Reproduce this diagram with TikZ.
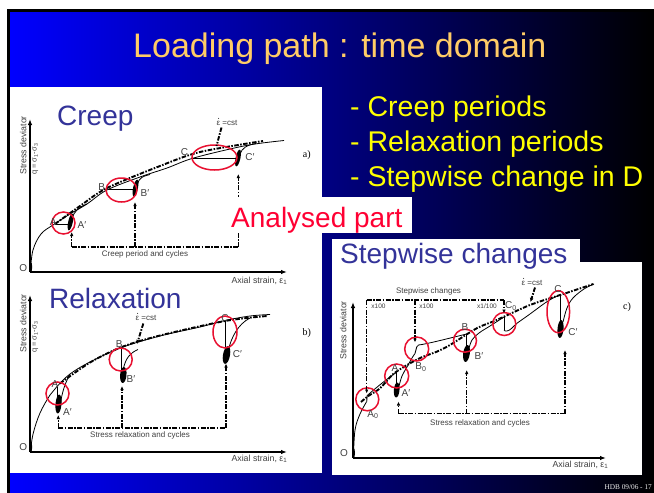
\documentclass[tikz,border=0pt]{standalone}
\usepackage{fontspec}
\setmainfont{Liberation Sans}
\newfontfamily\footserif{Liberation Serif}
\usetikzlibrary{arrows.meta,shadings}
\definecolor{titleorange}{RGB}{255,204,102}
\definecolor{bulletyellow}{RGB}{255,255,0}
\definecolor{analysered}{RGB}{255,0,51}
\definecolor{ringred}{RGB}{232,16,48}
\definecolor{panelblue}{RGB}{51,51,153}
\definecolor{labgray}{RGB}{64,64,64}
\definecolor{slideblue}{RGB}{0,0,255}
\definecolor{midblue}{RGB}{0,0,175}
\tikzset{
  axisline/.style={line width=1.6pt,-{Latex[length=6pt,width=4.5pt]}},
  curveline/.style={line width=0.8pt},
  stepline/.style={line width=0.9pt},
  epsline/.style={line width=1.9pt,dash pattern=on 4.5pt off 1.5pt on 1.5pt off 1.5pt},
  ddline/.style={line width=1.5pt,dash pattern=on 5pt off 1.5pt on 1.5pt off 1.5pt},
  ddarrow/.style={ddline,-{Latex[length=4pt,width=3.5pt]}},
  ring/.style={draw=ringred,line width=1.5pt},
  lbl/.style={text=labgray,inner sep=0,font=\fontsize{10}{11}\selectfont},
  smalllbl/.style={text=labgray,inner sep=0,font=\fontsize{8}{9}\selectfont},
  tinylbl/.style={text=labgray,inner sep=0,font=\fontsize{6.5}{7}\selectfont},
  axlbl/.style={text=labgray,inner sep=0,font=\fontsize{8.8}{9}\selectfont},
  paneltitle/.style={text=panelblue,inner sep=0,anchor=base west,font=\fontsize{28}{30}\selectfont},
  bullet/.style={text=bulletyellow,inner sep=0,anchor=base west,font=\fontsize{28.5}{30}\selectfont},
  tag/.style={inner sep=0,font=\footserif\fontsize{10}{11}\selectfont},
  epsdot/.style={fill=labgray},
}
\begin{document}
\begin{tikzpicture}[x=1pt,y=-1pt]
\useasboundingbox (0,0) rectangle (654,493);
\fill[white] (0,0) rectangle (654,493);
\begin{scope}
  \clip (0,0) rectangle (654,493);
  \shade[left color=slideblue,middle color=midblue,right color=black] (8.5,10.5) rectangle (654,493);
  \draw[line width=2.6pt] (8.5,500) -- (8.5,10.5) -- (660,10.5);
\end{scope}

% title and bullets
\node[anchor=base west,inner sep=0,text=titleorange,font=\fontsize{34}{40}\selectfont] (title) at (133,57) {Loading path : time domain};
\node[bullet] (b1) at (350,116) {- Creep periods};
\node[bullet] (b2) at (350,151) {- Relaxation periods};
\node[bullet] (b3) at (350,186) {- Stepwise change in D};

% white panels
\fill[white] (10,87) rectangle (322,473);
\fill[white] (332,262) rectangle (642,475);
\fill[white] (332,239) rectangle (580,262);

%================ PANEL A : creep =================
\coordinate (aO) at (30,272);
\coordinate (aY) at (30,119);
\coordinate (aX) at (287,272);
\draw[axisline] (aO) -- (aY);
\draw[axisline] (aO) -- (aX);
\fill (30.8,267) ellipse (1.4 and 5);
\draw[curveline] plot[smooth,tension=0.6] coordinates {(30.5,270) (33,250) (41,234) (53,225) (70,214) (87,204) (107,190) (140,177) (167,168) (192,158.5) (230,149) (255,144) (284,140.5)};
\draw[curveline] (72,219) .. controls (74,211) and (79,207) .. (87,204);
\draw[curveline] (137.5,184) .. controls (139,178) and (143,176) .. (150,174.5);
\draw[curveline] (240,154) .. controls (242,148) and (247,145) .. (256,143.5);
\coordinate (aA) at (55,224);   \coordinate (aAp) at (70,224);
\coordinate (aB) at (108,189.3); \coordinate (aBp) at (134,189.3);
\coordinate (aC) at (193,158.3); \coordinate (aCp) at (236,158.3);
\draw[stepline] (aA) -- (aAp);
\draw[stepline] (aB) -- (aBp);
\draw[stepline] (aC) -- (aCp);
\fill[rotate around={-12:(70.5,222)}] (70.5,222) ellipse (2.3 and 8.5);
\fill[rotate around={-12:(135.5,188)}] (135.5,188) ellipse (2.4 and 8.5);
\fill[rotate around={-12:(238,158)}] (238,158) ellipse (2.4 and 8.5);
\draw[epsline] plot[smooth] coordinates {(55,224) (80,206) (107,188) (160,166) (200,152) (263,141)};
\draw[ring] (63.5,223) ellipse (11.5 and 11);
\draw[ring] (121.5,190) ellipse (15.5 and 12);
\draw[ring] (214.5,157.5) ellipse (22.5 and 12.5);
\node[smalllbl,anchor=base] (aEps) at (227,125) {ε =cst};
\fill[epsdot] ([shift={(2.1,-6.6)}]aEps.base west) circle (0.55);
\coordinate (aEpsA) at (221.5,127.5);
\coordinate (aEpsB) at (216.5,146);
\draw[epsline] (aEpsA) -- (aEpsB);
\node[lbl] (laA) at (53.3,222) {A};
\node[lbl] (laAp) at (82,225) {A′};
\node[lbl] (laB) at (101.7,187) {B};
\node[lbl] (laBp) at (145,193) {B′};
\node[lbl] (laC) at (184.5,152) {C};
\node[lbl] (laCp) at (250,157) {C′};
\node[lbl] (laO) at (23.3,268) {O};
\coordinate (aBr1) at (71.7,247);
\coordinate (aBr2) at (135,247);
\coordinate (aBr3) at (238.3,247);
\draw[ddline] (aBr1) -- (aBr3);
\draw[ddarrow] (aBr1) -- (71.7,232);
\draw[ddarrow] (aBr2) -- (135,202);
\draw[ddarrow] (aBr3) -- (238.3,174);
\node[smalllbl,anchor=base] (aCap) at (145,256.5) {Creep period and cycles};
\node[axlbl,anchor=base east] (aXl) at (287.5,283) {Axial strain, ε\textsubscript{1}};
\node[axlbl,anchor=west,rotate=90] (aYl1) at (23.3,175) {Stress deviator};
\node[axlbl,anchor=west,rotate=90,font=\fontsize{7.5}{8}\selectfont] (aYl2) at (35.5,175) {q = σ\textsubscript{1}-σ\textsubscript{3}};
\node[tag] (aTag) at (306.7,155) {a)};
\node[paneltitle] (aTitle) at (57,125) {Creep};

%================ PANEL B : relaxation =================
\coordinate (bO) at (30,452);
\coordinate (bY) at (30,295);
\coordinate (bX) at (287,452);
\draw[axisline] (bO) -- (bY);
\draw[axisline] (bO) -- (bX);
\fill (30.8,447) ellipse (1.4 and 5);
\draw[curveline] plot[smooth,tension=0.6] coordinates {(30.5,450) (33.3,433) (40,413) (50,395) (57,386.5) (70,374) (90,362) (121.7,347.5) (160,336) (200,327) (225,320.5) (250,316) (270,314.5)};
\draw[curveline] (60,408) .. controls (61,398) and (63,387) .. (70,374);
\draw[curveline] (123.5,368) .. controls (126,358) and (130,353) .. (138,349.5);
\draw[curveline] (228.5,350) .. controls (231,338) and (238,324) .. (250,318);
\draw[stepline] (57,386.5) -- (57,400);
\draw[stepline] (121.7,347.5) -- (121.7,370);
\draw[stepline] (225,320.5) -- (225,348);
\fill[rotate around={-5:(58.5,404)}] (58.5,404) ellipse (3 and 9.5);
\fill[rotate around={-5:(123.3,375)}] (123.3,375) ellipse (3.2 and 8);
\fill[rotate around={-10:(226.5,355)}] (226.5,355) ellipse (3.5 and 9);
\draw[epsline] plot[smooth] coordinates {(60,383.5) (90,362.5) (121.7,347) (160,335.5) (225,321) (267,316)};
\draw[ring] (57.5,393.5) circle (11.5);
\draw[ring] (120.7,359.5) circle (11.5);
\draw[ring] (225,332) ellipse (12 and 16);
\node[smalllbl,anchor=base] (bEps) at (146,320) {ε =cst};
\fill[epsdot] ([shift={(2.1,-6.6)}]bEps.base west) circle (0.55);
\coordinate (bEpsA) at (143.3,323.5);
\coordinate (bEpsB) at (137,344);
\draw[epsline,-{Latex[length=4pt,width=4pt]}] (bEpsA) -- (bEpsB);
\node[lbl] (lbA) at (55,384.5) {A};
\node[lbl] (lbAp) at (67.5,412.5) {A′};
\node[lbl] (lbB) at (119.3,344) {B};
\node[lbl] (lbBp) at (131,379) {B′};
\node[lbl] (lbC) at (225,318.5) {C};
\node[lbl] (lbCp) at (237.5,354) {C′};
\node[lbl] (lbO) at (23.3,447) {O};
\coordinate (bBr1) at (58.3,428);
\coordinate (bBr2) at (122,428);
\coordinate (bBr3) at (226,428);
\draw[ddline] (bBr1) -- (bBr3);
\draw[ddarrow] (bBr1) -- (58.3,415);
\draw[ddarrow] (bBr2) -- (122,386);
\draw[ddarrow] (bBr3) -- (226,363.5);
\node[smalllbl,anchor=base] (bCap) at (140,437.5) {Stress relaxation and cycles};
\node[axlbl,anchor=base east] (bXl) at (287.5,461.5) {Axial strain, ε\textsubscript{1}};
\node[axlbl,anchor=west,rotate=90] (bYl1) at (23.3,353) {Stress deviator};
\node[axlbl,anchor=west,rotate=90,font=\fontsize{7.5}{8}\selectfont] (bYl2) at (35.5,353) {q = σ\textsubscript{1}-σ\textsubscript{3}};
\node[tag] (bTag) at (306.7,333.3) {b)};
\node[paneltitle] (bTitle) at (49,308) {Relaxation};

%================ ANALYSED PART =================
\fill[white] (227,197) rectangle (412,233);
\node[anchor=base west,inner sep=0,text=analysered,font=\fontsize{28}{30}\selectfont] (analysed) at (231,227.5) {Analysed part};

%================ PANEL C : stepwise =================
\coordinate (cO) at (353,458);
\coordinate (cY) at (353,302);
\coordinate (cX) at (606,458);
\draw[axisline] (cO) -- (cY);
\draw[axisline] (cO) -- (cX);
\fill (353.6,453) ellipse (1.4 and 5);
\draw[curveline] plot[smooth,tension=0.6] coordinates {(353.5,456) (355,430) (360,414) (366.7,401.5)};
\draw[stepline] (366.7,401.5) -- (367.2,395.5);
\draw[curveline] plot[smooth,tension=0.6] coordinates {(367.2,395.5) (376,388) (386,380) (396.7,372)};
\draw[stepline] (396.7,372) -- (396.7,385);
\draw[curveline] plot[smooth,tension=0.6] coordinates {(398.5,388) (402,376) (407,367) (412,358) (415,353.5)};
\draw[stepline] (415,353.5) -- (416.7,347);
\draw[curveline] (416.7,347) .. controls (417.5,345) and (419,344.5) .. (422,344.5) .. controls (435,342) and (450,338) .. (466.7,334);
\draw[stepline] (466.7,334) -- (466.7,348);
\draw[curveline] plot[smooth,tension=0.6] coordinates {(468.5,350) (472,340) (479,333) (490,326) (504,317)};
\draw[stepline] (504,317) -- (504,330);
\draw[curveline] (504,330) .. controls (505,332) and (509,331) .. (511.7,328.3) .. controls (514,326) and (516,324) .. (518,322.5);
\draw[curveline] plot[smooth,tension=0.6] coordinates {(518,322.5) (530,314) (545,303) (555,297) (560,295)};
\draw[stepline] (560,295) -- (560,322);
\draw[curveline] plot[smooth,tension=0.6] coordinates {(563,322) (567,308) (573,298) (584,289) (594,284)};
\fill[rotate around={-5:(396.7,390)}] (396.7,390) ellipse (2.8 and 7.5);
\fill[rotate around={-8:(466.5,353.5)}] (466.5,353.5) ellipse (3.3 and 8.5);
\fill[rotate around={-5:(560.5,329)}] (560.5,329) ellipse (3 and 9);
\draw[epsline] plot[smooth] coordinates {(361,402) (368.3,396) (380,388.3) (393.3,374) (408.3,364.3) (421.7,357.3) (436.7,351.7) (450,345) (476.7,328.3) (496.7,320) (530,305) (563.3,294) (593.3,284)};
\draw[ring] (367.3,399.3) circle (11.5);
\draw[ring] (396.7,376) circle (12);
\draw[ring] (416.7,349) circle (12);
\draw[ring] (465,340.7) circle (11.5);
\draw[ring] (504.3,324) circle (11.5);
\draw[ring] (558.3,311.7) ellipse (11.3 and 21);
\node[smalllbl,anchor=base] (cEps) at (532,285) {ε =cst};
\fill[epsdot] ([shift={(2.1,-6.6)}]cEps.base west) circle (0.55);
\coordinate (cEpsA) at (535,287.5);
\coordinate (cEpsB) at (530.5,302);
\draw[epsline,-{Latex[length=4pt,width=4pt]}] (cEpsA) -- (cEpsB);
\node[lbl] (lcA0) at (373,414.5) {A\textsubscript{0}};
\node[lbl] (lcA) at (395,368.5) {A};
\node[lbl] (lcAp) at (406,393) {A′};
\node[lbl] (lcB0) at (421,367) {B\textsubscript{0}};
\node[lbl] (lcB) at (465,327.5) {B};
\node[lbl] (lcBp) at (479,356.5) {B′};
\node[lbl] (lcC0) at (511,306) {C\textsubscript{0}};
\node[lbl] (lcC) at (558,289.5) {C};
\node[lbl] (lcCp) at (573,332) {C′};
\node[lbl] (lcO) at (344,453) {O};
\coordinate (cS1) at (366.7,300);
\coordinate (cS2) at (415,300);
\coordinate (cS3) at (504,300);
\draw[ddline] (cS1) -- (cS3);
\draw[ddarrow] (cS1) -- (366.7,393.5);
\draw[ddarrow] (cS2) -- (415,342.5);
\draw[ddarrow] (cS3) -- (504,313.5);
\node[smalllbl,anchor=base] (cStep) at (428.5,293) {Stepwise changes};
\node[tinylbl,anchor=base] (cx1) at (378.5,308.5) {x100};
\node[tinylbl,anchor=base] (cx2) at (426.5,308.5) {x100};
\node[tinylbl,anchor=base] (cx3) at (487,308.5) {x1/100};
\coordinate (cR1) at (398.5,413.5);
\coordinate (cR2) at (466.7,413.5);
\coordinate (cR3) at (565,413.5);
\draw[ddline] (cR1) -- (cR3);
\draw[ddarrow] (cR1) -- (398.5,401.5);
\draw[ddarrow] (cR2) -- (466.7,370);
\draw[ddarrow] (cR3) -- (565,350);
\node[smalllbl,anchor=base] (cCap) at (480,425.5) {Stress relaxation and cycles};
\node[axlbl,anchor=base east] (cXl) at (608.5,467) {Axial strain, ε\textsubscript{1}};
\node[axlbl,anchor=west,rotate=90] (cYl1) at (343.3,360) {Stress deviator};
\node[tag] (cTag) at (627,307) {c)};
\node[paneltitle] (cTitle) at (340,263) {Stepwise changes};

% footer
\node[anchor=base east,inner sep=0,text=white!85!gray,font=\footserif\fontsize{7.3}{8}\selectfont] (foot) at (652,489) {HDB 09/06 - 17};
\end{tikzpicture}
\end{document}
